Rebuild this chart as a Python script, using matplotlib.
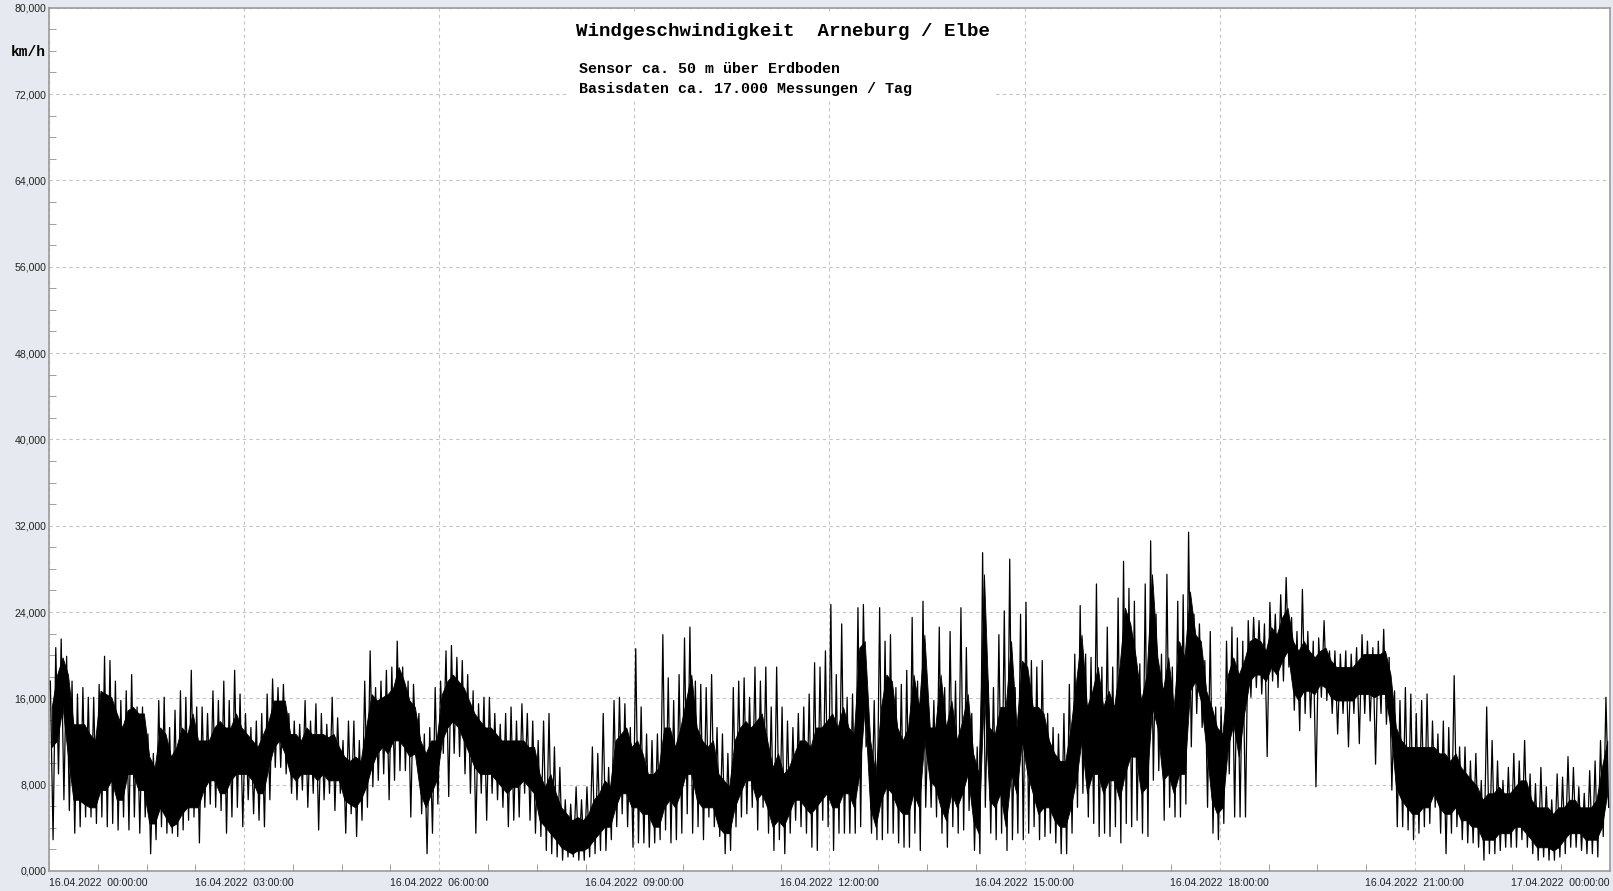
import numpy as np
import matplotlib
matplotlib.use("Agg")
import matplotlib.pyplot as plt
from matplotlib.patches import Rectangle
from matplotlib.ticker import MultipleLocator, FixedLocator

# Messwerte in km/h, abgelesen je 5-Minuten-Intervall (eine Zeile = eine Stunde)
# spitze / tief: Extremwerte im Intervall, kern_*: dicht belegter Bereich
spitze = [
    17.6, 20.7, 21.5, 19.9, 17.6, 16.4, 17, 16.1, 16.1, 17.3, 19.9, 19.5,
    17.6, 15.8, 16.7, 18.2, 15.2, 15.2, 12.7, 10.9, 15.8, 16.1, 13.3, 14.9,
    16.7, 16.1, 18.6, 15.2, 15.2, 14.6, 16.7, 15.8, 17.6, 15.8, 18.6, 16.4,
    14.6, 13.3, 13.9, 14.6, 16.4, 17.8, 17, 17.3, 14.6, 13.9, 13.6, 15.8,
    13.9, 15.5, 14.6, 13.6, 16.1, 14.2, 12.1, 13.9, 13.9, 12.1, 17.6, 20.4,
    17, 17.6, 18.6, 18.9, 21.3, 18.9, 17.6, 17.3, 14.6, 12.7, 13.3, 17,
    17.6, 20.4, 20.9, 19.8, 19.5, 18.2, 16.7, 15.5, 16.1, 16.1, 14.6, 13.6,
    14.6, 15.2, 13.9, 15.5, 14.6, 13.9, 12.1, 13.9, 14.6, 11.5, 9.6, 6.6,
    6.2, 7.8, 6.6, 7.8, 11.5, 10.9, 14.6, 9.6, 15.8, 16.1, 15.5, 13.3,
    20.6, 15.2, 12.7, 12.1, 12.7, 21.9, 17.9, 15.8, 18.2, 21.6, 22.6, 17.6,
    17.3, 17, 18.2, 13.3, 12.7, 10.9, 17, 17.6, 17.9, 16.1, 18.9, 17.6,
    18.9, 15.2, 18.9, 15.2, 13.9, 13.3, 14.6, 15.2, 16.4, 19.3, 18.9, 20.4,
    24.7, 18.2, 22.9, 16.1, 16.4, 24.4, 24.7, 13.3, 15.8, 24.4, 21.3, 21.9,
    17, 17.3, 18.6, 23.5, 17.6, 25, 15.2, 15.8, 22.6, 17, 22.2, 17.6,
    24.4, 20.7, 14.6, 11.5, 29.5, 17.6, 17, 21.9, 24.1, 28.9, 17, 23.8,
    24.9, 19.5, 18.9, 19.5, 14.6, 13.3, 12.7, 14.6, 17.3, 20.1, 24.6, 20.1,
    19.8, 26.6, 18.9, 22.6, 18.9, 25.3, 28.7, 26.2, 25, 19.2, 26.6, 30.6,
    23.8, 20.1, 27.5, 18.9, 25, 25.6, 31.4, 23.8, 22.9, 19.5, 22.2, 15.2,
    15.2, 21.3, 22.6, 21.6, 21.3, 23.2, 23.5, 23.2, 22.9, 24.9, 23.8, 25.6,
    27.2, 23.5, 22.2, 26.1, 22.2, 21.3, 21.6, 23.2, 20.4, 20.4, 20.1, 20.4,
    20.1, 20.7, 21.9, 21.3, 20.7, 21.3, 22.4, 19.8, 16.7, 15.8, 17, 16.4,
    14.6, 15.8, 16.4, 13.9, 12.7, 13.9, 13.3, 18.1, 11.5, 11.5, 10.2, 10.9,
    8.4, 15.2, 12.1, 10.2, 8.4, 9.6, 10.9, 10.2, 12.1, 9, 8.1, 9.6,
    7.8, 6.6, 9, 8.7, 10.6, 9.6, 7.8, 7.2, 9.3, 10.2, 12.1, 16.1,
]
tief = [
    2.9, 9, 6.6, 5.6, 3.5, 4.1, 5, 5, 4.4, 5, 4.1, 4.4,
    3.8, 5, 3.8, 5, 3.5, 5, 1.6, 2.9, 4.1, 3.5, 3.5, 3.2,
    3.8, 4.7, 5, 2.6, 5.9, 6.2, 5.9, 5.6, 3.5, 5, 5.9, 4.1,
    6.6, 5.3, 4.7, 4.1, 6.6, 9.6, 9.6, 9, 7.2, 6.6, 7.5, 5.9,
    7.2, 3.8, 6.6, 7.2, 5.6, 7.2, 3.5, 5.3, 3.2, 4.7, 5.9, 7.8,
    8.4, 9, 6.6, 8.4, 9.3, 9.3, 5, 10.9, 5.3, 1.6, 3.5, 6.2,
    10.9, 6.9, 10.9, 10.6, 9, 7.2, 3.5, 7.2, 4.7, 7.2, 6.6, 5.9,
    4.1, 4.7, 5, 7.2, 4.7, 3.5, 3.2, 1.9, 1.6, 1.3, 1, 1.3,
    1.3, 1, 1, 1.3, 1.6, 1.9, 1.9, 2.9, 4.1, 5.3, 4.1, 2.2,
    2.6, 2.6, 2.2, 2.6, 2.9, 3.8, 2.6, 2.9, 3.5, 5.3, 3.5, 4.1,
    2.9, 5, 4.1, 3.2, 1.6, 1.9, 4.1, 5, 5.3, 5.9, 3.8, 5.9,
    3.5, 1.9, 2.9, 1.6, 3.5, 4.7, 4.1, 3.5, 2.2, 1.9, 4.7, 4.1,
    1.9, 3.5, 3.5, 3.5, 3.5, 4.1, 11.5, 3.5, 2.9, 2.9, 3.5, 3.5,
    2.6, 2.2, 2.2, 3.5, 1.9, 5.9, 5.9, 5, 3.5, 2.2, 4.1, 3.5,
    3.8, 5.6, 1.9, 1.6, 5.9, 3.5, 2.9, 3.5, 1.9, 2.9, 3.5, 2.9,
    3.5, 4.1, 2.9, 3.2, 3.5, 2.6, 1.6, 1.6, 3.5, 5.9, 7.2, 5,
    4.4, 3.2, 3.5, 3.2, 4.1, 2.6, 4.4, 4.1, 4.7, 3.5, 3.2, 8.4,
    9.3, 4.7, 5.9, 5, 5, 6.2, 11.5, 14.6, 13.3, 5.9, 3.5, 2.9,
    4.4, 9, 5, 5, 5, 16.1, 17, 16.4, 10.6, 17.6, 17, 17.6,
    18.9, 14.9, 13, 14.6, 14.2, 7.8, 16.1, 15.8, 14.6, 12.7, 14.6, 11.5,
    14.6, 11.8, 14.6, 13.9, 9.9, 14.6, 13.6, 7.5, 4.1, 4.1, 3.8, 2.9,
    3.5, 4.1, 4.4, 5.9, 3.5, 1.6, 3.5, 4.1, 2.9, 2.6, 2.6, 2.2,
    1, 1.6, 1.6, 1.9, 2.2, 2.2, 2.2, 2.9, 2.2, 1.6, 1, 1.3,
    1, 1, 1.3, 1.6, 2.2, 2.2, 1.9, 1.6, 1.6, 1.3, 3.2, 5.9,
]
kern_oben = [
    15.2, 18.2, 19.8, 18.2, 13.6, 13.6, 13.6, 12.7, 12.1, 16.7, 16.4, 16.1,
    14.6, 13.3, 14.9, 15.2, 14.6, 14.6, 10.6, 9.6, 13.3, 12.7, 10.6, 11.5,
    13.3, 12.7, 14.6, 12.1, 12.1, 12.1, 13.3, 13.9, 13.3, 13.3, 14.6, 13.3,
    12.7, 12.1, 11.5, 12.7, 13.9, 15.8, 15.8, 15.8, 12.7, 12.7, 12.1, 13.3,
    12.7, 12.7, 12.7, 12.4, 12.7, 11.5, 10.6, 10.2, 10.6, 10.2, 13.3, 16.4,
    15.8, 16.1, 16.4, 17, 18.9, 17.6, 15.8, 15.2, 12.1, 10.9, 12.1, 12.1,
    16.4, 17.6, 18.2, 17.6, 17, 15.8, 14.6, 13.9, 13.3, 13.3, 12.7, 12.1,
    12.1, 12.1, 12.1, 12.1, 11.5, 11.5, 9, 7.8, 9, 7.2, 5.9, 5.3,
    4.7, 5, 4.7, 5.3, 6.6, 7.2, 8.4, 7.8, 12.1, 12.7, 13.3, 11.5,
    12.1, 10.9, 9, 9, 9.6, 13.3, 13.3, 11.5, 13.3, 15.8, 18.2, 13.3,
    12.1, 11.5, 12.1, 9, 8.4, 7.8, 12.1, 13.3, 13.9, 13.3, 13.9, 14.6,
    12.1, 9.6, 10.9, 9, 9.6, 10.9, 12.1, 12.1, 11.5, 13.3, 13.3, 13.9,
    14.6, 13.3, 15.2, 13.3, 12.7, 20.7, 21.3, 12.1, 9, 15.2, 18.2, 17.6,
    13.3, 12.1, 13.3, 18.2, 15.2, 21.9, 13.3, 13.3, 18.2, 13.3, 15.8, 12.1,
    13.9, 16.4, 10.9, 9, 27.5, 13.3, 12.7, 15.2, 15.2, 21.3, 13.3, 19.5,
    18.9, 15.2, 15.2, 14.6, 12.1, 10.9, 10.2, 10.2, 13.3, 17.6, 21.9, 15.2,
    16.7, 18.9, 15.2, 16.7, 15.2, 18.9, 24.4, 22.9, 19.8, 15.8, 18.2, 27.5,
    19.8, 16.7, 19.8, 15.2, 21.3, 19.8, 25.9, 21.9, 21.3, 16.7, 15.2, 13.3,
    12.7, 18.2, 19.8, 18.2, 19.5, 21.3, 21.6, 21.3, 20.4, 22.6, 21.9, 23.5,
    24.4, 21.3, 20.4, 21.3, 20.4, 19.8, 20.4, 20.7, 19.5, 18.9, 18.9, 18.9,
    18.9, 19.5, 20.1, 20.1, 20.1, 20.1, 20.4, 18.2, 13.3, 12.1, 11.5, 11.5,
    11.5, 11.5, 11.5, 11.5, 10.9, 10.9, 10.2, 10.9, 9.6, 9, 8.4, 7.8,
    6.6, 7.2, 7.2, 7.8, 7.2, 7.2, 7.8, 8.4, 8.4, 6.6, 5.9, 5.9,
    5.9, 5.3, 5.9, 5.9, 6.6, 6.6, 5.9, 5.9, 5.9, 6.6, 9.6, 12.1,
]
kern_unten = [
    11.5, 12.1, 15.2, 10.6, 6.6, 6.6, 6.2, 5.9, 5.9, 7.5, 7.5, 8.4,
    6.6, 6.6, 9, 9, 7.5, 7.5, 4.4, 4.4, 5.9, 5, 4.1, 4.4,
    5.3, 5.9, 5.9, 5.9, 7.5, 8.4, 8.4, 7.2, 7.2, 8.4, 9, 9,
    9, 8.4, 7.2, 7.2, 9.6, 11.5, 12.1, 10.9, 9, 8.4, 9, 9,
    9, 8.4, 9, 8.4, 8.4, 8.4, 6.6, 6.2, 5.9, 6.6, 7.8, 9.6,
    10.9, 11.5, 10.9, 12.1, 12.1, 11.5, 10.6, 10.9, 7.2, 5.9, 7.2, 8.4,
    12.1, 13.3, 13.9, 13.3, 12.1, 10.9, 9.6, 9, 9, 9, 8.4, 7.8,
    7.2, 7.8, 7.8, 8.4, 7.8, 7.2, 4.7, 4.1, 3.5, 2.9, 2.2, 1.9,
    1.6, 1.9, 1.9, 2.2, 2.9, 3.5, 4.1, 4.1, 5.9, 7.2, 7.2, 5.9,
    5.9, 5.3, 5.3, 4.1, 4.1, 5.9, 6.6, 5.9, 7.2, 9, 9, 6.6,
    5.9, 5.9, 5.9, 4.1, 3.5, 3.5, 5.9, 7.2, 8.4, 8.4, 6.6, 7.2,
    5.9, 4.1, 4.7, 4.1, 5.3, 6.6, 6.6, 5.9, 5.3, 5.9, 6.6, 7.2,
    5.9, 5.9, 7.2, 7.2, 5.9, 9, 15.2, 5.9, 4.1, 6.6, 7.8, 7.2,
    5.9, 5.3, 5.3, 7.2, 5.9, 12.1, 8.4, 7.8, 5.9, 4.7, 7.2, 5.9,
    7.2, 9, 4.7, 3.5, 16.7, 6.6, 5.9, 7.2, 4.1, 9, 7.2, 12.1,
    9, 7.2, 5.3, 5.9, 5.9, 4.7, 4.1, 4.1, 5.9, 8.4, 12.1, 7.2,
    9, 9, 7.2, 8.4, 8.4, 6.6, 9, 10.6, 10.6, 7.2, 7.8, 15.2,
    13.3, 8.4, 9, 7.2, 9, 9, 16.7, 17.6, 15.8, 11.5, 6.6, 5.3,
    5.9, 11.5, 13.6, 10.6, 14.6, 17.6, 18.2, 18.2, 17.6, 18.9, 18.2, 19.5,
    20.4, 16.7, 15.8, 16.7, 16.7, 16.4, 17.3, 17, 16.1, 15.8, 15.8, 15.8,
    15.8, 16.4, 16.4, 16.4, 16.1, 16.4, 16.4, 13.3, 7.8, 6.6, 5.9, 5.3,
    5.3, 5.9, 5.9, 7.2, 5.9, 5.3, 5.3, 5.9, 4.7, 4.7, 4.1, 4.1,
    2.9, 2.9, 2.9, 3.5, 3.5, 3.5, 4.1, 4.1, 3.5, 2.9, 2.2, 2.2,
    2.2, 1.9, 2.2, 2.9, 3.5, 3.5, 3.5, 2.9, 2.9, 2.9, 4.1, 7.2,
]

tick_stunden = [0, 3, 6, 9, 12, 15, 18, 21, 24]
tick_texte = [
    "16.04.2022  00:00:00", "16.04.2022  03:00:00", "16.04.2022  06:00:00",
    "16.04.2022  09:00:00", "16.04.2022  12:00:00", "16.04.2022  15:00:00",
    "16.04.2022  18:00:00", "16.04.2022  21:00:00", "17.04.2022  00:00:00",
]

# Zeitachse in Stunden, 5-Minuten-Raster
t_bin = np.arange(len(spitze)) / 12.0
t_zick = np.empty(2 * len(spitze))
t_zick[0::2] = t_bin + 1.25 / 60
t_zick[1::2] = t_bin + 3.75 / 60
v_zick = np.empty(2 * len(spitze))
v_zick[0::2] = spitze
v_zick[1::2] = tief
t_kern = t_bin + 2.5 / 60

bg = "#E6E9F0"
fig = plt.figure(figsize=(16.13, 8.91), dpi=100, facecolor=bg)
ax = fig.add_axes([49 / 1613, 1 - 871 / 891, (1610 - 49) / 1613, (871 - 7.7) / 891])
ax.set_facecolor("white")

ax.fill_between(t_kern, kern_unten, kern_oben, color="black", lw=0.6, zorder=3)
ax.plot(t_zick, v_zick, color="black", lw=0.9, zorder=3)

ax.set_xlim(0, 24)
ax.set_ylim(0, 80)

ax.xaxis.set_major_locator(FixedLocator(tick_stunden))
ax.set_xticklabels(tick_texte)
ax.xaxis.set_minor_locator(MultipleLocator(0.75))
labels = ax.get_xticklabels()
labels[0].set_ha("left")
labels[-1].set_ha("right")

ax.set_yticks(np.arange(0, 81, 8))
ax.set_yticklabels([f"{v:.3f}".replace(".", ",") for v in np.arange(0, 81, 8)])
ax.yaxis.set_minor_locator(MultipleLocator(2))

ax.tick_params(axis="both", which="both", direction="in", colors="#909090",
               labelcolor="#222222", labelsize=7.6)
ax.tick_params(axis="both", which="major", length=0)
ax.tick_params(axis="both", which="minor", length=5)
ax.tick_params(axis="x", which="major", pad=5)
ax.tick_params(axis="y", which="major", pad=2)
for lab in ax.get_xticklabels() + ax.get_yticklabels():
    lab.set_fontfamily("Liberation Sans")

ax.grid(True, which="major", color="#c4c4c4", linestyle=(0, (3, 3)), lw=0.8, zorder=0)
ax.set_axisbelow(True)
for s in ax.spines.values():
    s.set_color("#9a9a9a")
    s.set_linewidth(1.2)

# weisser Hintergrund hinter dem Titelblock
fig.add_artist(Rectangle((567 / 1613, 1 - 100 / 891), (996 - 567) / 1613, 85 / 891,
                         transform=fig.transFigure, facecolor="white",
                         edgecolor="none", zorder=2))

fig.text(576 / 1613, 1 - 32 / 891, "Windgeschwindigkeit  Arneburg / Elbe",
         fontfamily="Liberation Mono", fontweight="bold", fontsize=13.8,
         ha="left", va="center", zorder=3)
fig.text(579 / 1613, 1 - 69 / 891, "Sensor ca. 50 m über Erdboden",
         fontfamily="Liberation Mono", fontweight="bold", fontsize=10.8,
         ha="left", va="center", zorder=3)
fig.text(579 / 1613, 1 - 89 / 891, "Basisdaten ca. 17.000 Messungen / Tag",
         fontfamily="Liberation Mono", fontweight="bold", fontsize=10.8,
         ha="left", va="center", zorder=3)
fig.text(28.5 / 1613, 1 - 52 / 891, "km/h", fontfamily="Liberation Mono",
         fontweight="bold", fontsize=10.5, ha="center", va="center")

fig.savefig("out.png", dpi=100, facecolor=bg)
